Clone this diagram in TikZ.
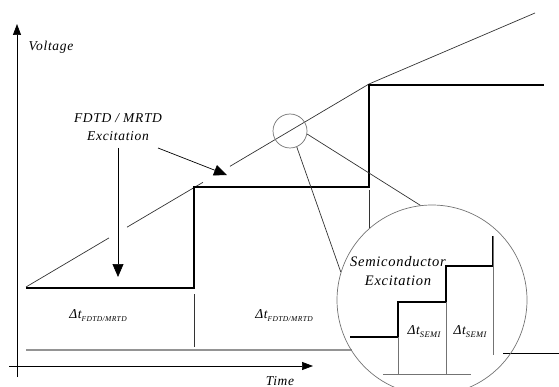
\documentclass[tikz,border=0pt]{standalone}
\usepackage{fontspec}
\setmainfont{Liberation Serif}
\newfontfamily\wideserif[LetterSpace=5]{Liberation Serif}
\usetikzlibrary{arrows.meta}
% Delta-t with a small italic subscript
\newcommand{\dtlabel}[2]{Δ\textit{t}\raisebox{-0.5ex}{\fontsize{#2}{#2}\selectfont\itshape #1}}

\begin{document}
\begin{tikzpicture}[x=1pt,y=-1pt,
  thinline/.style={line width=0.7pt, draw=black!80},
  greyline/.style={line width=0.7pt, draw=black!55},
  stair/.style={line width=2.4pt, draw=black, line join=miter},
  baseline/.style={line width=1.7pt, draw=black!42},
  lbl/.style={font=\wideserif\fontsize{13.5}{18.5}\selectfont\itshape, inner sep=0pt, align=center},
  axistip/.style={-{Triangle[length=11pt,width=8pt]}},
  bigtip/.style={-{Triangle[length=13pt,width=11pt]}}]

\clip (0,0) rectangle (559,387);

% axes
\coordinate (yfoot) at (17,377);
\coordinate (ytop) at (17,24);
\coordinate (xfoot) at (9,366);
\coordinate (xend) at (313,366);
\draw[thinline, draw=black, axistip] (yfoot) -- (ytop);
\draw[thinline, draw=black, axistip] (xfoot) -- (xend);
\node[lbl] (vlab) at (51,47) {Voltage};
\node[lbl] (tlab) at (280,381) {Time};

% linear ramp, broken where the excitation arrows cross it
\coordinate (r0) at (26,287);
\coordinate (r1) at (109,237.9);
\coordinate (r2) at (127,227.2);
\coordinate (r3) at (203,182.3);
\coordinate (r4) at (230,166.3);
\coordinate (r5) at (369,84);
\coordinate (r6) at (535,13);
\draw[thinline] (r0) -- (r1);
\draw[thinline] (r2) -- (r3);
\draw[thinline] (r4) -- (r5) -- (r6);

% coarse staircase excitation
\coordinate (s0) at (26,288);
\coordinate (s1) at (194,288);
\coordinate (s2) at (194,187);
\coordinate (s3) at (369,187);
\coordinate (s4) at (369,85);
\coordinate (s5) at (544,85);
\draw[stair] (s0) -- (s1) -- (s2) -- (s3) -- (s4) -- (s5);

% time-step markers and base line
\coordinate (m1a) at (194,294);
\coordinate (m1b) at (194,347);
\coordinate (m2a) at (369,190);
\coordinate (m2b) at (369,228);
\draw[thinline] (m1a) -- (m1b);
\draw[thinline] (m2a) -- (m2b);
\coordinate (bl0) at (26,350);
\coordinate (bl1) at (352,350);
\draw[baseline] (bl0) -- (bl1);
\coordinate (br0) at (503,353);
\coordinate (br1) at (559,353);
\draw[thinline, draw=black] (br0) -- (br1);

\node[lbl] at (98,316) {\dtlabel{FDTD/MRTD}{7.5}};
\node[lbl] at (284,316) {\dtlabel{FDTD/MRTD}{7.5}};

% coarse excitation label and its arrows
\node[lbl] (exc) at (118,127) {FDTD / MRTD\\Excitation};
\coordinate (excV) at (118,148);
\coordinate (excVtip) at (118,277);
\coordinate (excD) at (158,148);
\coordinate (excDtip) at (227,175);
\draw[thinline, draw=black, bigtip] (excV) -- (excVtip);
\draw[thinline, draw=black, bigtip] (excD) -- (excDtip);

% magnifier
\node[circle, greyline, minimum size=34pt, inner sep=0pt] (src) at (290,131) {};
\node[circle, greyline, minimum size=190pt, inner sep=0pt] (lens) at (432,300) {};
\draw[thinline] (src.-67.6) -- (lens.163.6);
\draw[thinline] (src.-10) -- (lens.97.3);

% fine staircase inside the magnifier
\coordinate (f0) at (350,337);
\coordinate (f1) at (398,337);
\coordinate (f2) at (398,302);
\coordinate (f3) at (446,302);
\coordinate (f4) at (446,266);
\coordinate (f5) at (493,266);
\coordinate (f6) at (493,236);
\draw[stair] (f0) -- (f1) -- (f2) -- (f3) -- (f4) -- (f5) -- (f6);
\coordinate (g1) at (398,374);
\coordinate (g2) at (446,374);
\coordinate (g3) at (493,355);
\draw[greyline] (f1) -- (g1);
\draw[greyline] (f3) -- (g2);
\draw[greyline] (f6) -- (g3);
\coordinate (c0) at (383,374);
\coordinate (c1) at (471,374);
\draw[greyline] (c0) -- (c1);

\node[lbl, font=\wideserif\fontsize{14.5}{19.5}\selectfont\itshape] (semi) at (398,271) {Semiconductor\\Excitation};
\node[lbl] at (424,332) {\dtlabel{SEMI}{8.5}};
\node[lbl] at (470,332) {\dtlabel{SEMI}{8.5}};
\end{tikzpicture}
\end{document}
